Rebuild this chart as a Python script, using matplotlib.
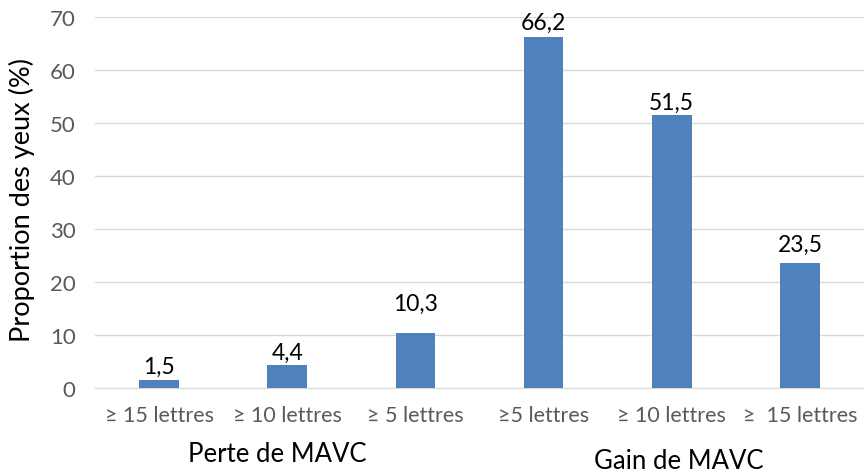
import matplotlib
matplotlib.use("Agg")
import matplotlib.pyplot as plt

categories = ["\u2265 15 lettres", "\u2265 10 lettres", "\u2265 5 lettres",
              "\u22655 lettres", "\u2265 10 lettres", "\u2265  15 lettres"]
values = [1.5, 4.4, 10.3, 66.2, 51.5, 23.5]
groups = ["Perte de MAVC", "Gain de MAVC"]

# extra lift of each value label above its bar (points), as placed in the original
label_lift = [1, 0, 13, 2, 1, 5]

plt.rcParams["font.family"] = ["Lato", "DejaVu Sans"]

fig = plt.figure(figsize=(8.64, 4.77), dpi=100)
ax = fig.add_axes([0.110, 0.1845, 0.890, 0.7775])

x = range(len(values))
ax.bar(x, values, width=0.31, color="#4F81BD", zorder=3)

for xi, v, lift in zip(x, values, label_lift):
    ax.annotate(f"{v:.1f}".replace(".", ","), (xi, v), xytext=(0, 1 + lift),
                textcoords="offset points", ha="center", va="bottom",
                fontsize=16.5, color="black")

ax.set_xlim(-0.5, len(values) - 0.5)
ax.set_ylim(0, 70)
ax.set_yticks(range(0, 71, 10))
ax.yaxis.grid(True, color="#D9D9D9", linewidth=1, zorder=0)
ax.set_xticks(list(x))
ax.set_xticklabels(categories, fontsize=15.5, color="#595959")
ax.tick_params(axis="x", length=0, pad=12)
ax.tick_params(axis="y", length=0, labelsize=16, labelcolor="#595959", pad=14)

for side in ["top", "right", "left"]:
    ax.spines[side].set_visible(False)
ax.spines["bottom"].set_color("#D9D9D9")

fig.text(22 / 864, 1 - 200 / 477, "Proportion des yeux (%)", rotation=90,
         ha="center", va="center", fontsize=19.5, color="black")

fig.text(277 / 864, 1 - 455 / 477, groups[0], ha="center", va="center",
         fontsize=18.5, color="black")
fig.text(679 / 864, 1 - 462 / 477, groups[1], ha="center", va="center",
         fontsize=18.5, color="black")

fig.savefig("out.png", dpi=100)
